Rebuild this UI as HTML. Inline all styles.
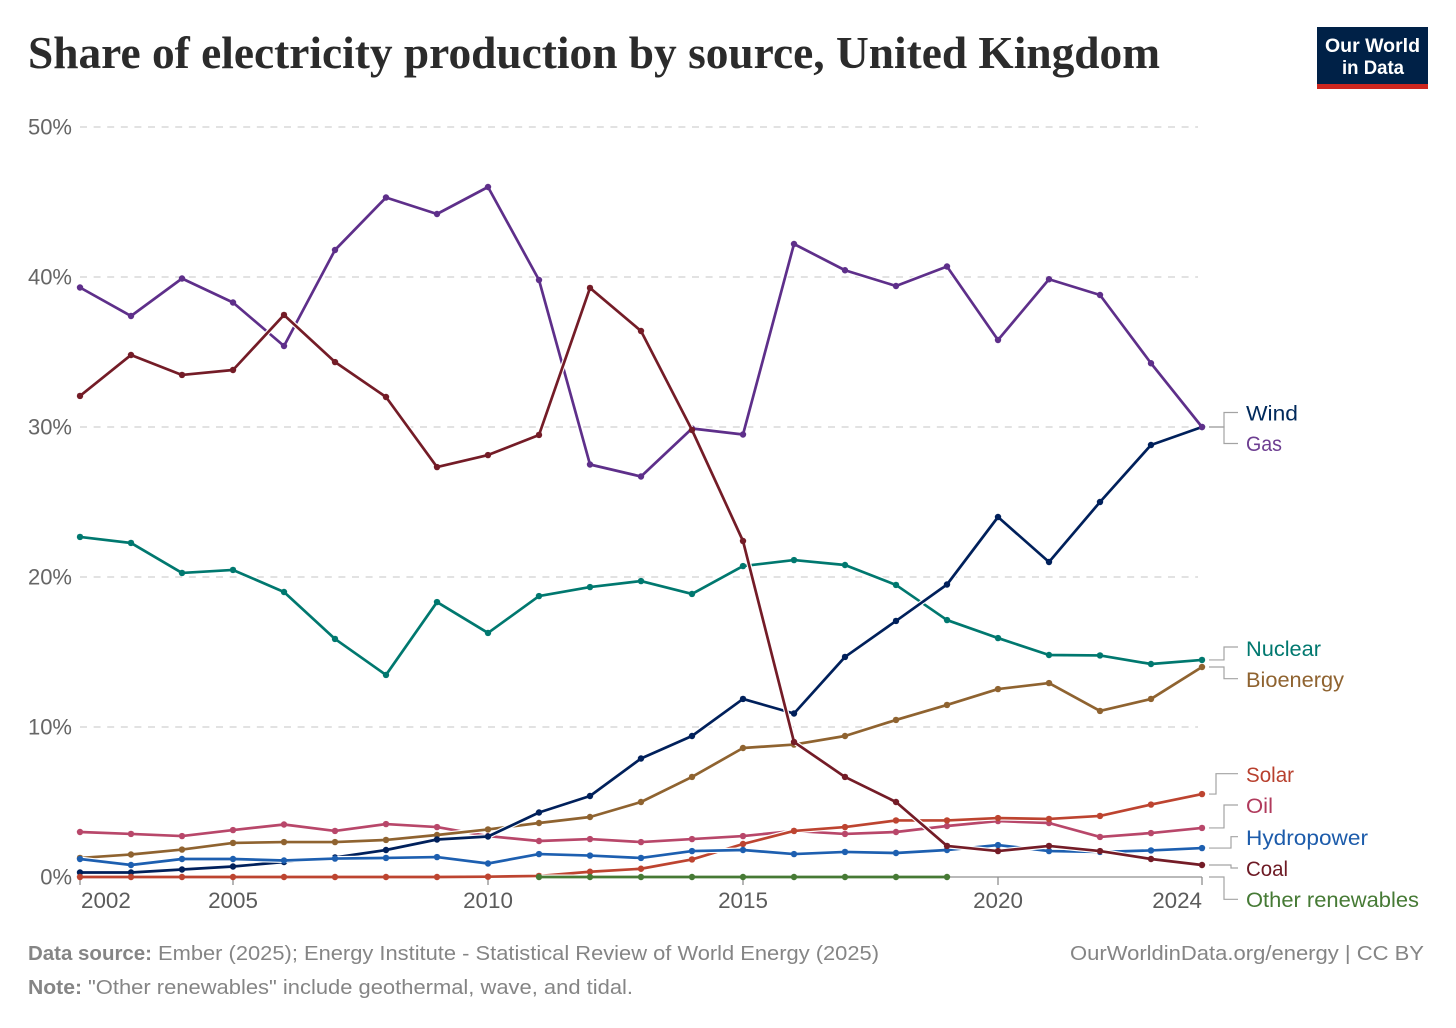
<!DOCTYPE html>
<html lang="en">
<head>
<meta charset="utf-8">
<title>Share of electricity production by source, United Kingdom</title>
<style>
html,body{margin:0;padding:0;background:#fff;width:1456px;height:1028px;overflow:hidden}
svg{display:block}
text{font-family:"Liberation Sans",sans-serif}
.title{font-family:"Liberation Serif",serif;font-weight:700;font-size:46px;fill:#2b2b2b}
.foot{font-size:20.5px;fill:#858585}
.foot-b{font-size:20.5px;fill:#858585;font-weight:700}
.lab{font-size:21px}
</style>
</head>
<body>
<svg id="chart" width="1456" height="1028" viewBox="0 0 1456 1028" xmlns="http://www.w3.org/2000/svg">
  <rect x="0" y="0" width="1456" height="1028" fill="#ffffff"/>
  <text class="title" x="28" y="68" textLength="1132" lengthAdjust="spacingAndGlyphs">Share of electricity production by source, United Kingdom</text>

  <g>
    <rect x="1317" y="27" width="111" height="62" fill="#002147"/>
    <rect x="1317" y="84" width="111" height="5" fill="#ce261e"/>
    <text x="1325" y="52" font-size="19.5" font-weight="700" fill="#fff" textLength="95" lengthAdjust="spacingAndGlyphs">Our World</text>
    <text x="1342" y="74" font-size="19.5" font-weight="700" fill="#fff" textLength="62" lengthAdjust="spacingAndGlyphs">in Data</text>
  </g>

  <g id="grid"></g>
  <g id="axis"></g>
  <g id="connectors"></g>
  <g id="marks"></g>

  <g>
    <text class="lab" id="label-wind" x="1246" y="420.5" fill="#00295b" textLength="52" lengthAdjust="spacingAndGlyphs">Wind</text>
    <text class="lab" id="label-gas" x="1246" y="451" fill="#6d3e91" textLength="36" lengthAdjust="spacingAndGlyphs">Gas</text>
    <text class="lab" id="label-nuclear" x="1246" y="656" fill="#00786f" textLength="75" lengthAdjust="spacingAndGlyphs">Nuclear</text>
    <text class="lab" id="label-bioenergy" x="1246" y="687" fill="#8f6330" textLength="98" lengthAdjust="spacingAndGlyphs">Bioenergy</text>
    <text class="lab" id="label-solar" x="1246" y="782" fill="#b8402e" textLength="48" lengthAdjust="spacingAndGlyphs">Solar</text>
    <text class="lab" id="label-oil" x="1246" y="813" fill="#b03a5c" textLength="27" lengthAdjust="spacingAndGlyphs">Oil</text>
    <text class="lab" id="label-hydropower" x="1246" y="845" fill="#1d5cab" textLength="122" lengthAdjust="spacingAndGlyphs">Hydropower</text>
    <text class="lab" id="label-coal" x="1246" y="876" fill="#6d1a24" textLength="42" lengthAdjust="spacingAndGlyphs">Coal</text>
    <text class="lab" id="label-other" x="1246" y="907" fill="#467a35" textLength="173" lengthAdjust="spacingAndGlyphs">Other renewables</text>
  </g>

  <g>
    <text class="foot-b" x="28" y="960" textLength="124" lengthAdjust="spacingAndGlyphs">Data source:</text>
    <text class="foot" x="158" y="960" textLength="721" lengthAdjust="spacingAndGlyphs">Ember (2025); Energy Institute - Statistical Review of World Energy (2025)</text>
    <text class="foot-b" x="28" y="994" textLength="54" lengthAdjust="spacingAndGlyphs">Note:</text>
    <text class="foot" x="88" y="994" textLength="545" lengthAdjust="spacingAndGlyphs">"Other renewables" include geothermal, wave, and tidal.</text>
    <text class="foot" x="1070" y="960" textLength="354" lengthAdjust="spacingAndGlyphs">OurWorldinData.org/energy | CC BY</text>
  </g>
</svg>
<script>
const years = [2002,2003,2004,2005,2006,2007,2008,2009,2010,2011,2012,2013,2014,2015,2016,2017,2018,2019,2020,2021,2022,2023,2024];
const yTicks = [0,10,20,30,40,50];
const xTicks = [2002,2005,2010,2015,2020,2024];

const gas = [39.3,37.4,39.9,38.3,35.4,41.8,45.3,44.2,46.0,39.8,27.5,26.7,29.9,29.5,42.2,40.45,39.4,40.7,35.8,39.85,38.8,34.25,30.0];
const coal = [32.07,34.8,33.47,33.8,37.47,34.33,32.0,27.33,28.13,29.47,39.27,36.4,29.8,22.4,9.0,6.67,5.0,2.07,1.73,2.07,1.73,1.2,0.8];
const nuclear = [22.67,22.27,20.27,20.47,19.0,15.87,13.47,18.33,16.27,18.73,19.33,19.73,18.87,20.73,21.13,20.8,19.47,17.13,15.93,14.8,14.77,14.2,14.47];
const wind = [0.3,0.3,0.5,0.7,1.0,1.3,1.8,2.5,2.7,4.3,5.4,7.9,9.4,11.87,10.9,14.67,17.07,19.5,24.0,21.0,25.0,28.8,30.0];
const bioenergy = [1.27,1.5,1.83,2.27,2.33,2.33,2.47,2.8,3.17,3.6,4.0,5.0,6.67,8.6,8.83,9.4,10.47,11.47,12.53,12.93,11.07,11.87,14.0];
const solar = [0,0,0,0,0,0,0,0,0.02,0.07,0.35,0.55,1.17,2.2,3.07,3.33,3.77,3.77,3.93,3.87,4.07,4.83,5.53];
const oil = [3.0,2.87,2.73,3.13,3.5,3.07,3.53,3.33,2.73,2.4,2.53,2.33,2.53,2.73,3.07,2.87,3.0,3.4,3.73,3.6,2.67,2.93,3.27];
const hydropower = [1.2,0.8,1.2,1.2,1.1,1.23,1.27,1.33,0.9,1.53,1.43,1.27,1.73,1.8,1.53,1.67,1.6,1.8,2.13,1.73,1.67,1.77,1.93];
const otherRenewables = [null,null,null,null,null,null,null,null,null,0,0,0,0,0,0,0,0,0,null,null,null,null,null];

const SVGNS = 'http://www.w3.org/2000/svg';
const X0 = 80, X1 = 1202, Y0 = 877, Y50 = 127;
function xScale(year){ return X0 + (year - years[0]) * (X1 - X0) / (years[years.length-1] - years[0]); }
function yScale(v){ return Y0 + v * (Y50 - Y0) / 50; }
function make(tag, attrs, parent){
  const el = document.createElementNS(SVGNS, tag);
  for (const k in attrs) el.setAttribute(k, attrs[k]);
  parent.appendChild(el);
  return el;
}

const grid = document.getElementById('grid');
const axis = document.getElementById('axis');
const connectors = document.getElementById('connectors');
const marks = document.getElementById('marks');

yTicks.forEach(function(t){
  if (t > 0) {
    const line = make('line', {x1:X0, x2:1198, y1:yScale(t), y2:yScale(t), stroke:'#d9d9d9', 'stroke-width':1.4, 'stroke-dasharray':'7,6.6'}, grid);
    
    
  }
  const lbl = make('text', {x:72, y:yScale(t)+7.5, 'text-anchor':'end', 'font-size':22, fill:'#666666'}, grid);
  
  
  lbl.textContent = t + '%';
});

const axisLine = make('line', {x1:X0, x2:X1, y1:Y0, y2:Y0, stroke:'#8f8f8f', 'stroke-width':1.3}, axis);



xTicks.forEach(function(t, i){
  const tick = make('line', {x1:xScale(t), x2:xScale(t), y1:Y0, y2:Y0+8, stroke:'#8f8f8f', 'stroke-width':1.3}, axis);
  
  
  let anchor = 'middle', tx = xScale(t);
  if (i === 0) { anchor = 'start'; tx = xScale(t) + 1; }
  if (i === xTicks.length - 1) { anchor = 'end'; }
  const lbl = make('text', {x:tx, y:908, 'text-anchor':anchor, 'font-size':22.4, fill:'#5b5b5b'}, axis);
  
  
  lbl.textContent = t;
});

const drawOrder = [
  {key:'oil', values:oil, color:'#b8476a'},
  {key:'bioenergy', values:bioenergy, color:'#8f6330'},
  {key:'nuclear', values:nuclear, color:'#00786f'},
  {key:'wind', values:wind, color:'#00205b'},
  {key:'solar', values:solar, color:'#bd4430'},
  {key:'hydropower', values:hydropower, color:'#1d5fb0'},
  {key:'other-renewables', values:otherRenewables, color:'#467a35'},
  {key:'gas', values:gas, color:'#5e2f8a'},
  {key:'coal', values:coal, color:'#741c27'}
];

drawOrder.forEach(function(s){
  const g = make('g', {}, marks);
  
  
  const pts = [];
  s.values.forEach(function(v, i){
    if (v !== null) pts.push(xScale(years[i]).toFixed(2) + ',' + yScale(v).toFixed(2));
  });
  const halo = make('polyline', {points:pts.join(' '), fill:'none', stroke:'#ffffff', 'stroke-width':5, 'stroke-linejoin':'round'}, g);
  
  
  const line = make('polyline', {points:pts.join(' '), fill:'none', stroke:s.color, 'stroke-width':2.7, 'stroke-linejoin':'round'}, g);
  
  
  s.values.forEach(function(v, i){
    if (v === null) return;
    const dot = make('circle', {cx:xScale(years[i]), cy:yScale(v), r:3.2, fill:s.color}, g);
    
    
  });
});

const connectorDefs = [
  {values:wind, bend:1224, target:412.5},
  {values:gas, bend:1224, target:443.5},
  {values:nuclear, bend:1224, target:647},
  {values:bioenergy, bend:1224, target:678.7},
  {values:solar, bend:1216, target:773.7},
  {values:oil, bend:1224, target:805},
  {values:hydropower, bend:1231, target:836.7},
  {values:coal, bend:1231, target:868},
  {values:otherRenewables, bend:1224, target:899.3, fixedEnd:0}
];
connectorDefs.forEach(function(c){
  const last = c.values[c.values.length-1];
  const y = yScale(last === null ? c.fixedEnd : last);
  const p = make('path', {d:'M1209 ' + y + 'H' + c.bend + 'V' + c.target + 'H1238', fill:'none', stroke:'#a3a3a3', 'stroke-width':1.2}, connectors);
  
  
});
</script>
</body>
</html>
